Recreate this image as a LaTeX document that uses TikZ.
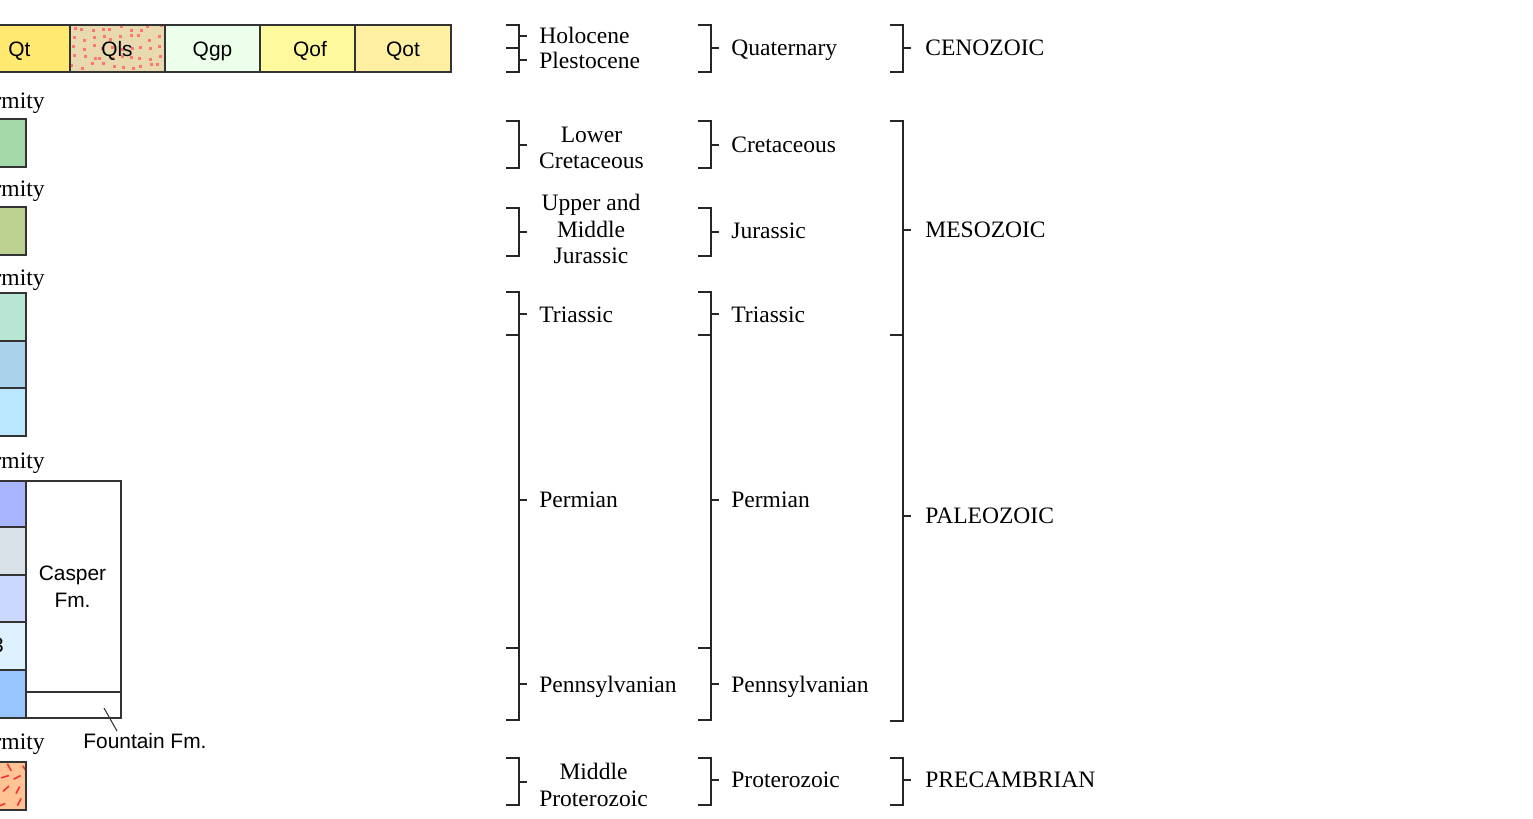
\documentclass[tikz,border=0pt]{standalone}
\usepackage{fontspec}
\setmainfont{Liberation Serif}
\setsansfont{Liberation Sans}
\definecolor{qtcol}{HTML}{FFE970}
\definecolor{qlscol}{HTML}{E8DAAE}
\definecolor{qgpcol}{HTML}{EBFFEB}
\definecolor{qofcol}{HTML}{FFF99D}
\definecolor{qotcol}{HTML}{FFEFA3}
\definecolor{dotred}{HTML}{FF7575}
\definecolor{dashred}{HTML}{F5303A}
\definecolor{kcol}{HTML}{A3D8A8}
\definecolor{jcol}{HTML}{BCD08F}
\definecolor{tracol}{HTML}{B9E5D4}
\definecolor{trbcol}{HTML}{A8D3EB}
\definecolor{trccol}{HTML}{BBE6FF}
\definecolor{paacol}{HTML}{A9B5FF}
\definecolor{pabcol}{HTML}{D9E2E8}
\definecolor{paccol}{HTML}{CAD8FF}
\definecolor{padcol}{HTML}{DDF1FF}
\definecolor{paecol}{HTML}{99C5FF}
\definecolor{pccol}{HTML}{FFC394}
\newcommand{\ageBracket}[4]{%
  \draw[bracket] (#1-13,#2) -- (#1,#2) -- (#1,#3) -- (#1-13,#3);
  \draw[bracket] (#1,#4) -- (#1+8,#4);}
\begin{document}
\begin{tikzpicture}[x=0.02cm, y=-0.02cm,
    unit/.style={draw=black!80, line width=0.7pt},
    bracket/.style={draw=black!85, line width=0.85pt},
    era/.style={font=\fontsize{13.4}{15}\selectfont, inner sep=0pt, text height=11pt, text depth=2.2pt},
    eraml/.style={font=\fontsize{13.4}{15}\selectfont, inner sep=0pt, align=center},
    fm/.style={font=\sffamily\fontsize{11.9}{15.3}\selectfont, inner sep=0pt}]
\useasboundingbox (0,0) rectangle (1533,818);
\clip (0,0) rectangle (1533,818);

% Quaternary units
\fill[qtcol] (-31,25) rectangle (70,72);
\fill[qlscol] (70,25) rectangle (165,72);
\begin{scope}
  \clip (70,25) rectangle (165,72);
  \pgfmathsetseed{11}
  \foreach \i in {0,...,9}
    \foreach \j in {0,...,4}{
      \pgfmathsetmacro\px{72+9.5*\i+3*rand}
      \pgfmathsetmacro\py{27+9.5*\j+3*rand}
      \fill[dotred] (\px,\py) rectangle ++(3,3);
    }
\end{scope}
\fill[qgpcol] (165,25) rectangle (260,72);
\fill[qofcol] (260,25) rectangle (355,72);
\fill[qotcol] (355,25) rectangle (451,72);
\draw[unit] (-31,25) rectangle (451,72);
\foreach \x in {70,165,260,355}
  \draw[unit] (\x,25) -- (\x,72);
\node[fm] (qt) at (19.5,51) {Qt};
\node[fm] (qls) at (117,51) {Qls};
\node[fm] (qgp) at (212.5,51) {Qgp};
\node[fm] (qof) at (310,51) {Qof};
\node[fm] (qot) at (403,51) {Qot};

% Unconformities
\node[eraml, anchor=base east] (uncA) at (45,108) {Unconformity};
\node[eraml, anchor=base east] (uncB) at (45,196) {Unconformity};
\node[eraml, anchor=base east] (uncC) at (45,285) {Unconformity};
\node[eraml, anchor=base east] (uncD) at (45,468) {Unconformity};
\node[eraml, anchor=base east] (uncE) at (45,749) {Unconformity};

% Mesozoic and Paleozoic units
\draw[unit, fill=kcol] (-60,119) rectangle (26,167);
\draw[unit, fill=jcol] (-60,207) rectangle (26,255);
\draw[unit, fill=tracol] (-60,293) rectangle (26,341);
\draw[unit, fill=trbcol] (-60,341) rectangle (26,388);
\draw[unit, fill=trccol] (-60,388) rectangle (26,436);
\draw[unit, fill=paacol] (-60,481) rectangle (26,527);
\draw[unit, fill=pabcol] (-60,527) rectangle (26,575);
\draw[unit, fill=paccol] (-60,575) rectangle (26,622);
\draw[unit, fill=padcol] (-60,622) rectangle (26,670);
\draw[unit, fill=paecol] (-60,670) rectangle (26,718);
\node[fm, anchor=base east] (unitB) at (4,652) {3};

% Casper and Fountain
\draw[unit] (26,481) rectangle (121,718);
\draw[unit] (26,692) -- (121,692);
\node[fm, align=center] (casper) at (72.5,587) {Casper\\Fm.};
\node[fm, anchor=base west] (fountain) at (83,748) {Fountain Fm.};
\coordinate (leadA) at (104,708);
\coordinate (leadB) at (117,731);
\draw[black!80, line width=0.6pt] (leadA) -- (leadB);

% Precambrian unit
\fill[pccol] (-60,762) rectangle (26,810);
\begin{scope}
  \clip (-60,762) rectangle (26,810);
  \pgfmathsetseed{5}
  \foreach \i in {0,...,6}
    \foreach \j in {0,...,3}{
      \pgfmathsetmacro\px{-58+13*\i+3*rand}
      \pgfmathsetmacro\py{765+12*\j+3*rand}
      \pgfmathsetmacro\ang{180*rnd}
      \draw[dashred, line width=0.9pt] (\px,\py) -- ++(\ang:8);
    }
\end{scope}
\draw[unit] (-60,762) rectangle (26,810);

% Epochs
\ageBracket{519}{25}{48}{36}
\ageBracket{519}{48}{72}{60}
\ageBracket{519}{121}{168}{145}
\ageBracket{519}{208}{256}{232}
\ageBracket{519}{292}{335}{314}
\ageBracket{519}{335}{648}{500}
\ageBracket{519}{648}{720}{684}
\ageBracket{519}{758}{805}{782}
\node[era, anchor=west] (holocene) at (539,36) {Holocene};
\node[era, anchor=west] (plesto) at (539,61) {Plestocene};
\node[eraml] (lowcret) at (591.5,148) {Lower\\Cretaceous};
\node[eraml] (upmidjur) at (591,229) {Upper and\\Middle\\Jurassic};
\node[era, anchor=west] (triasA) at (539,315) {Triassic};
\node[era, anchor=west] (permA) at (539,500) {Permian};
\node[era, anchor=west] (pennA) at (539,685) {Pennsylvanian};
\node[eraml] (midprot) at (593.5,785) {Middle\\Proterozoic};

% Periods
\ageBracket{711}{25}{72}{48}
\ageBracket{711}{121}{168}{145}
\ageBracket{711}{208}{256}{232}
\ageBracket{711}{292}{335}{314}
\ageBracket{711}{335}{648}{500}
\ageBracket{711}{648}{720}{684}
\ageBracket{711}{758}{805}{780}
\node[era, anchor=west] (quat) at (731,48) {Quaternary};
\node[era, anchor=west] (cret) at (731,145) {Cretaceous};
\node[era, anchor=west] (jur) at (731,231) {Jurassic};
\node[era, anchor=west] (triasB) at (731,315) {Triassic};
\node[era, anchor=west] (permB) at (731,500) {Permian};
\node[era, anchor=west] (pennB) at (731,685) {Pennsylvanian};
\node[era, anchor=west] (prot) at (731,780) {Proterozoic};

% Eras
\ageBracket{903}{25}{72}{48}
\ageBracket{903}{121}{335}{230}
\ageBracket{903}{335}{721}{516}
\ageBracket{903}{758}{805}{780}
\node[era, anchor=west] (cenozoic) at (925,48) {CENOZOIC};
\node[era, anchor=west] (mesozoic) at (925,230) {MESOZOIC};
\node[era, anchor=west] (paleozoic) at (925,516) {PALEOZOIC};
\node[era, anchor=west] (precamb) at (925,780) {PRECAMBRIAN};
\end{tikzpicture}
\end{document}
